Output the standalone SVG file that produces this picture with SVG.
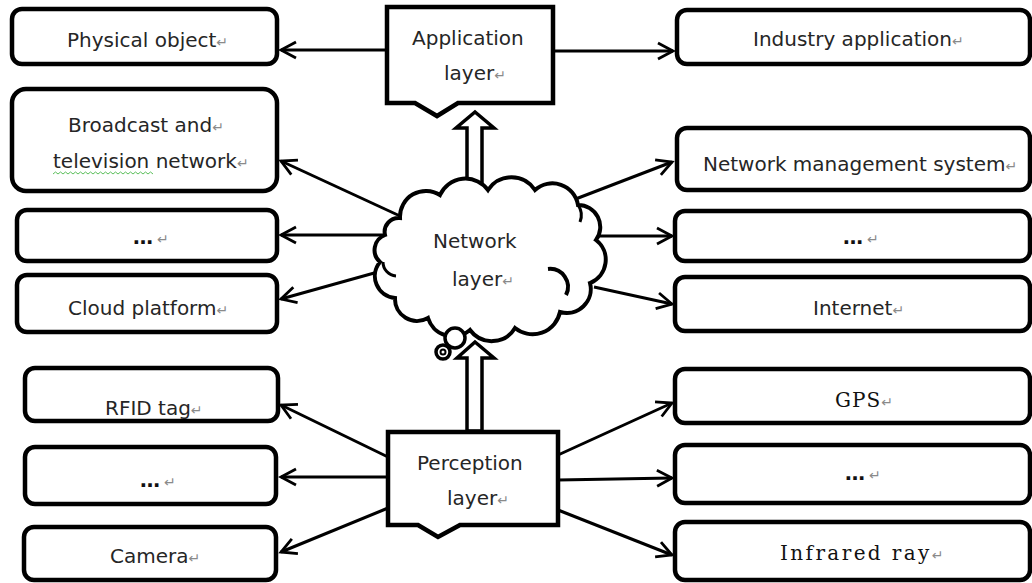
<svg xmlns="http://www.w3.org/2000/svg" width="1032" height="583" viewBox="0 0 1032 583">
<style>
.box{fill:#fff;stroke:#000;stroke-width:4.5}
.callout{fill:#fff;stroke:#000;stroke-width:4.5;stroke-linejoin:miter}
.conn{stroke:#000;stroke-width:3;fill:none}
.t{font-family:"DejaVu Sans",sans-serif;font-size:20px;fill:#262626}
.m{font-family:"DejaVu Serif",serif;font-size:20px;fill:#111}
.d{font-family:"DejaVu Sans",sans-serif;font-size:20px;font-weight:bold;fill:#111}
.r{font-family:"DejaVu Sans",sans-serif;font-size:14px;font-weight:normal;fill:#8a8a8a;letter-spacing:0}
.block{fill:#fff;stroke:#000;stroke-width:3.5;stroke-linejoin:miter}
</style>
<defs>
<marker id="ah" viewBox="-17 -10 20 20" refX="0" refY="0" markerWidth="20" markerHeight="20" markerUnits="userSpaceOnUse" orient="auto">
<path d="M-15,-8 L0,0 L-15,8" fill="none" stroke="#000" stroke-width="2.8"/>
</marker>
</defs>
<rect width="1032" height="583" fill="#fff"/>

<g id="connectors">
<line class="conn" x1="387" y1="50" x2="281" y2="50" marker-end="url(#ah)"/>
<line class="conn" x1="553" y1="51" x2="673" y2="51" marker-end="url(#ah)"/>
<line class="conn" x1="400" y1="216" x2="281" y2="161" marker-end="url(#ah)"/>
<line class="conn" x1="390" y1="235" x2="281" y2="235" marker-end="url(#ah)"/>
<line class="conn" x1="385" y1="270" x2="281" y2="299" marker-end="url(#ah)"/>
<line class="conn" x1="573" y1="200" x2="672" y2="162" marker-end="url(#ah)"/>
<line class="conn" x1="594" y1="236" x2="672" y2="236" marker-end="url(#ah)"/>
<line class="conn" x1="594" y1="287" x2="672" y2="304" marker-end="url(#ah)"/>
<line class="conn" x1="388" y1="457" x2="281" y2="405" marker-end="url(#ah)"/>
<line class="conn" x1="388" y1="477" x2="281" y2="477" marker-end="url(#ah)"/>
<line class="conn" x1="388" y1="508" x2="281" y2="552" marker-end="url(#ah)"/>
<line class="conn" x1="558" y1="455" x2="672" y2="403" marker-end="url(#ah)"/>
<line class="conn" x1="558" y1="480" x2="672" y2="478" marker-end="url(#ah)"/>
<line class="conn" x1="558" y1="510" x2="672" y2="555" marker-end="url(#ah)"/>
<path id="arrow-up-1" class="block" d="M467,192 V128 H456 L475,112 L494,128 H482 V192 Z"/>
<path id="arrow-up-2" class="block" d="M467,431 V358 H457 L475,342 L494,358 H482 V431 Z"/>
</g>

<g id="physical-object">
<rect class="box" x="12" y="9" width="265" height="55" rx="10"/>
<text class="t" x="67" y="47">Physical object<tspan class="r">↵</tspan></text>
</g>
<g id="broadcast">
<rect class="box" x="12" y="89" width="265" height="102" rx="14"/>
<text class="t" x="68" y="132">Broadcast and<tspan class="r">↵</tspan></text>
<text class="t" x="53" y="168">television network<tspan class="r">↵</tspan></text>
<path d="M53,174 l2.5,-2 l2.5,2 l2.5,-2 l2.5,2 l2.5,-2 l2.5,2 l2.5,-2 l2.5,2 l2.5,-2 l2.5,2 l2.5,-2 l2.5,2 l2.5,-2 l2.5,2 l2.5,-2 l2.5,2 l2.5,-2 l2.5,2 l2.5,-2 l2.5,2 l2.5,-2 l2.5,2 l2.5,-2 l2.5,2 l2.5,-2 l2.5,2 l2.5,-2 l2.5,2 l2.5,-2 l2.5,2 l2.5,-2 l2.5,2 l2.5,-2 l2.5,2 l2.5,-2 l2.5,2 l2.5,-2 l2.5,2 l2.5,-2 l2.5,2" fill="none" stroke="#5cbf5c" stroke-width="1"/>
</g>
<g id="left-more-1">
<rect class="box" x="17" y="210" width="260" height="51" rx="10"/>
<text class="d" x="133" y="244">…<tspan class="r" dx="4">↵</tspan></text>
</g>
<g id="cloud-platform">
<rect class="box" x="17" y="275" width="260" height="57" rx="10"/>
<text class="t" x="68" y="315">Cloud platform<tspan class="r">↵</tspan></text>
</g>
<g id="rfid-tag">
<rect class="box" x="25" y="368" width="253" height="53" rx="10"/>
<text class="t" x="105" y="415">RFID tag<tspan class="r">↵</tspan></text>
</g>
<g id="left-more-2">
<rect class="box" x="25" y="447" width="251" height="57" rx="10"/>
<text class="d" x="140" y="487">…<tspan class="r" dx="4">↵</tspan></text>
</g>
<g id="camera">
<rect class="box" x="24" y="527" width="252" height="53" rx="10"/>
<text class="t" x="110" y="563">Camera<tspan class="r">↵</tspan></text>
</g>

<g id="industry-application">
<rect class="box" x="677" y="10" width="353" height="54" rx="10"/>
<text class="t" x="753" y="46">Industry application<tspan class="r">↵</tspan></text>
</g>
<g id="network-management">
<rect class="box" x="677" y="128" width="353" height="62" rx="10"/>
<text class="t" x="703" y="171">Network management system<tspan class="r">↵</tspan></text>
</g>
<g id="right-more-1">
<rect class="box" x="675" y="211" width="355" height="50" rx="10"/>
<text class="d" x="843" y="244">…<tspan class="r" dx="4">↵</tspan></text>
</g>
<g id="internet">
<rect class="box" x="675" y="277" width="355" height="54" rx="10"/>
<text class="t" x="813" y="315">Internet<tspan class="r">↵</tspan></text>
</g>
<g id="gps">
<rect class="box" x="675" y="369" width="355" height="54" rx="10"/>
<text class="m" x="835" y="407" letter-spacing="1">GPS<tspan class="r">↵</tspan></text>
</g>
<g id="right-more-2">
<rect class="box" x="675" y="445" width="355" height="58" rx="10"/>
<text class="d" x="845" y="480">…<tspan class="r" dx="4">↵</tspan></text>
</g>
<g id="infrared-ray">
<rect class="box" x="675" y="522" width="355" height="58" rx="10"/>
<text class="m" x="780" y="560" letter-spacing="2.4">Infrared ray<tspan class="r">↵</tspan></text>
</g>

<g id="application-layer">
<path class="callout" d="M387,7 H553 V103 H458 L437,116 L415,103 H387 Z"/>
<text class="t" x="412" y="45">Application</text>
<text class="t" x="444" y="80">layer<tspan class="r">↵</tspan></text>
</g>

<g id="network-layer">
<path fill="#fff" stroke="#000" stroke-width="4" d="M400,218 A26,26 0 0 1 440,195 A28,28 0 0 1 488,190 A28,28 0 0 1 535,190 A26,26 0 0 1 578,205 A22,22 0 0 1 596,240 A25,25 0 0 1 590,283 A24,24 0 0 1 560,312 A28,28 0 0 1 515,328 A27,27 0 0 1 470,330 A26,26 0 0 1 428,318 A22,22 0 0 1 395,298 A22,22 0 0 1 380,262 A16,16 0 0 1 385,235 A14,14 0 0 1 400,218 Z"/>
<path d="M548,269 A18,18 0 0 1 566,295" fill="none" stroke="#000" stroke-width="4"/>
<path d="M383,262 A14,14 0 0 0 396,276" fill="none" stroke="#000" stroke-width="3"/>
<path d="M578,205 A18,18 0 0 1 580,222" fill="none" stroke="#000" stroke-width="3"/>
<circle cx="455" cy="338" r="10" fill="#fff" stroke="#000" stroke-width="3.5"/>
<circle cx="443" cy="352" r="7" fill="#fff" stroke="#000" stroke-width="3.5"/>
<circle cx="443" cy="352" r="2.5" fill="none" stroke="#000" stroke-width="2"/>
<text class="t" x="433" y="248">Network</text>
<text class="t" x="452" y="286">layer<tspan class="r">↵</tspan></text>
</g>

<g id="perception-layer">
<path class="callout" d="M388,432 H558 V525 H460 L438,537 L418,525 H388 Z"/>
<text class="t" x="417" y="470">Perception</text>
<text class="t" x="447" y="505">layer<tspan class="r">↵</tspan></text>
</g>
</svg>
